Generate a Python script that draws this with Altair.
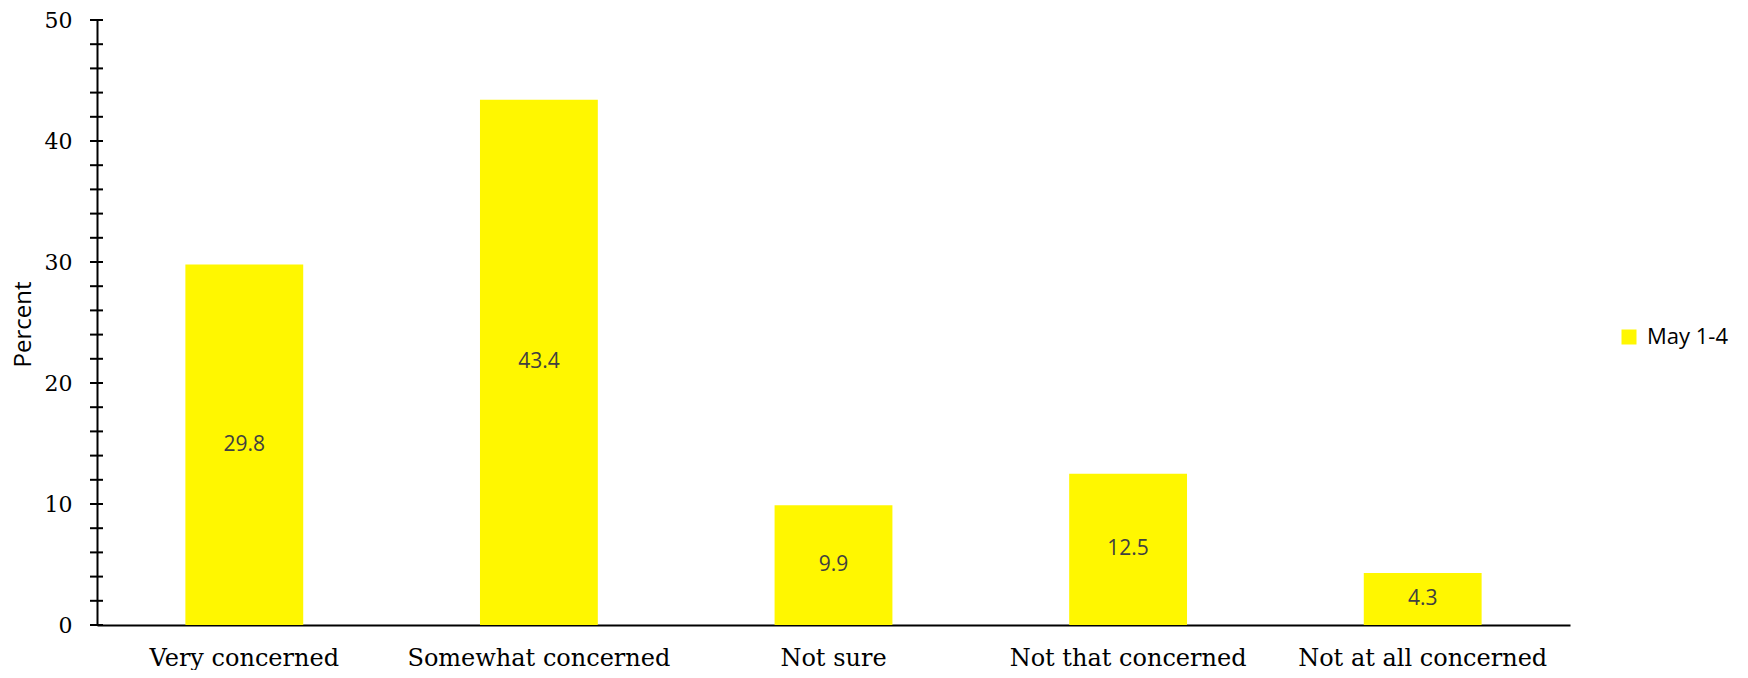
import altair as alt
import pandas as pd

categories = ["Very concerned", "Somewhat concerned", "Not sure", "Not that concerned", "Not at all concerned"]
values = [29.8, 43.4, 9.9, 12.5, 4.3]
series_name = "May 1-4"
y_title = "Percent"
y_tick_values = list(range(0, 51, 2))
y_label_values = [0, 10, 20, 30, 40, 50]

YELLOW = "#FFF700"
PLOT_W, PLOT_H = 1473, 605

df = pd.DataFrame({"category": categories, "value": values, "series": [series_name] * len(categories)})
df_ticks = pd.DataFrame({"t": y_tick_values})

x_scale = alt.Scale(paddingInner=0.6, paddingOuter=0.3)
x_axis = alt.Axis(
    title=None, labelAngle=0, labelFont="DejaVu Serif", labelFontSize=24,
    labelColor="black", domainColor="black", domainWidth=2, ticks=False,
    labelPadding=21, labelLimit=0,
)
y_scale = alt.Scale(domain=[0, 50], nice=False)
y_axis = alt.Axis(
    title=None, values=y_label_values, ticks=False, grid=False,
    domainColor="black", domainWidth=2, labelFont="DejaVu Serif",
    labelFontSize=22, labelColor="black", labelPadding=25,
)

bars = alt.Chart(df).mark_bar().encode(
    x=alt.X("category:N", sort=categories, scale=x_scale, axis=x_axis),
    y=alt.Y("value:Q", scale=y_scale, axis=y_axis),
    color=alt.Color(
        "series:N",
        scale=alt.Scale(range=[YELLOW]),
        legend=alt.Legend(
            title=None, orient="none", legendX=1521, legendY=306,
            symbolType="square", symbolSize=225, symbolStrokeWidth=0,
            symbolOpacity=1, labelFont="Open Sans", labelFontSize=22,
            labelColor="black", labelOffset=7,
        ),
    ),
)

labels = alt.Chart(df).transform_calculate(mid="datum.value / 2").mark_text(
    font="Open Sans", fontSize=21, color="#404040", baseline="middle"
).encode(
    x=alt.X("category:N", sort=categories, scale=x_scale, axis=x_axis),
    y=alt.Y("mid:Q", scale=y_scale, axis=y_axis),
    text=alt.Text("value:Q", format=".1f"),
)

ticks = alt.Chart(df_ticks).mark_rule(color="black", strokeWidth=2).encode(
    y=alt.Y("t:Q", scale=y_scale, axis=y_axis),
    x=alt.value(-7),
    x2=alt.value(6),
)

title_text = alt.Chart(pd.DataFrame({"t": [y_title]})).mark_text(
    font="Open Sans", fontSize=24, color="black", angle=270,
    align="center", baseline="middle",
).encode(
    text="t:N",
    x=alt.value(-73),
    y=alt.value(PLOT_H / 2 + 2),
)

chart = alt.layer(bars, labels, ticks, title_text).properties(
    width=PLOT_W, height=PLOT_H,
    background="white",
    autosize=alt.AutoSizeParams(type="none"),
    padding={"left": 89, "top": 12, "right": 170, "bottom": 45},
).configure_view(strokeWidth=0)

chart.save("out.html", embed_options={"renderer": "svg", "actions": False})
